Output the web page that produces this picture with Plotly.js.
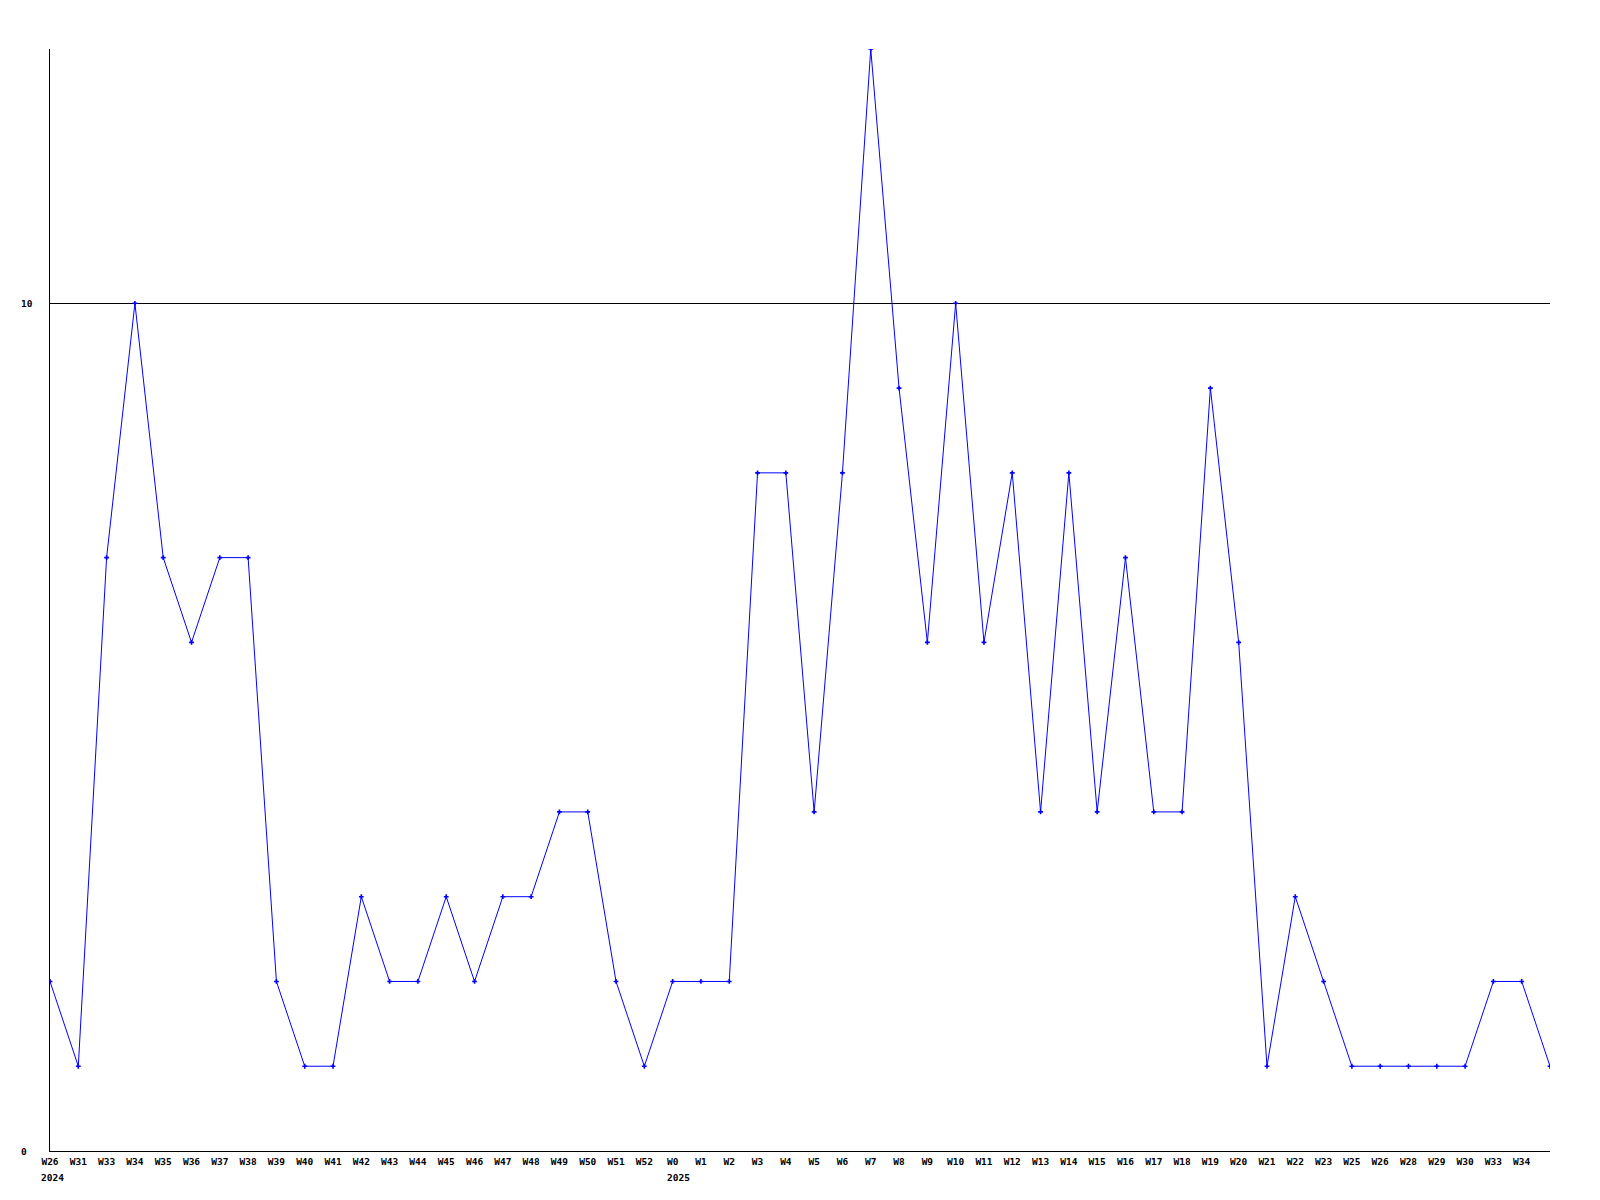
<!DOCTYPE html>
<html>
<head>
<meta charset="utf-8">
<script src="https://cdn.plot.ly/plotly-3.0.1.min.js"></script>
<style>html,body{margin:0;padding:0;background:#fff;}#chart{width:1600px;height:1200px;}</style>
</head>
<body>
<div id="chart"></div>
<script>
// Week labels (the last point has no drawn label in the reference)
const weekLabels = ['W26','W31','W33','W34','W35','W36','W37','W38','W39','W40','W41','W42','W43','W44','W45','W46','W47','W48','W49','W50','W51','W52',
  'W0','W1','W2','W3','W4','W5','W6','W7','W8','W9','W10','W11','W12','W13','W14','W15','W16','W17','W18','W19','W20','W21','W22','W23','W25','W26','W28','W29','W30','W33','W34',''];
const values = [2,1,7,10,7,6,7,7,2,1,1,3,2,2,3,2,3,3,4,4,2,1,
  2,2,2,8,8,4,8,13,9,6,10,6,8,4,8,4,7,4,4,9,6,1,3,2,1,1,1,1,1,2,2,1];
const yearLabels = ['2024','2025'];
const yearStartIndex = [0,22];
const yTicks = [0,10];
const yMax = 13;

const xIdx = values.map((v,i)=>i);
const FONT = {family:'"DejaVu Sans Mono", "Liberation Mono", monospace', size:9.5, color:'#000'};
const CHARW = 5.7;

const annotations = [];
yearLabels.forEach((yl,k)=>{
  const idx = yearStartIndex[k];
  annotations.push({
    x: idx, xref:'x', y:0, yref:'paper', text:'<b>'+yl+'</b>', showarrow:false,
    xanchor:'left', yanchor:'middle', xshift: -weekLabels[idx].length*CHARW/2 - 2, yshift:-26, font:FONT
  });
});
yTicks.forEach(t=>{
  annotations.push({
    x: -31/1500, xref:'paper', y:t, yref:'y', text:'<b>'+t+'</b>', showarrow:false,
    xanchor:'left', yanchor:'middle', font:FONT
  });
});

const trace = {
  x: xIdx, y: values, type:'scatter', mode:'lines+markers',
  line:{color:'#0000ff', width:1},
  marker:{color:'#0000ff', size:4, symbol:'cross'},
  hoverinfo:'skip'
};

const tickIdx = xIdx.filter(i=>weekLabels[i] !== '');
const layout = {
  width:1600, height:1200,
  margin:{l:50, r:50, t:49, b:49, pad:0},
  paper_bgcolor:'#fff', plot_bgcolor:'#fff',
  showlegend:false,
  font: FONT,
  xaxis:{
    range:[0, values.length-1], tickmode:'array', tickvals:tickIdx,
    ticktext: tickIdx.map(i=>'<b>'+weekLabels[i]+'</b>'),
    tickangle:0, ticks:'', showgrid:false, zeroline:false, ticklabelstandoff:2,
    showline:true, linecolor:'#000', linewidth:1, tickfont:FONT, fixedrange:true
  },
  yaxis:{
    range:[0, yMax], tickmode:'array', tickvals:yTicks, showticklabels:false,
    ticks:'', showgrid:true, gridcolor:'#000', gridwidth:1, zeroline:false,
    showline:true, linecolor:'#000', linewidth:1, fixedrange:true
  },
  annotations: annotations
};
Plotly.newPlot('chart', [trace], layout, {staticPlot:true, displayModeBar:false});
</script>
</body>
</html>
